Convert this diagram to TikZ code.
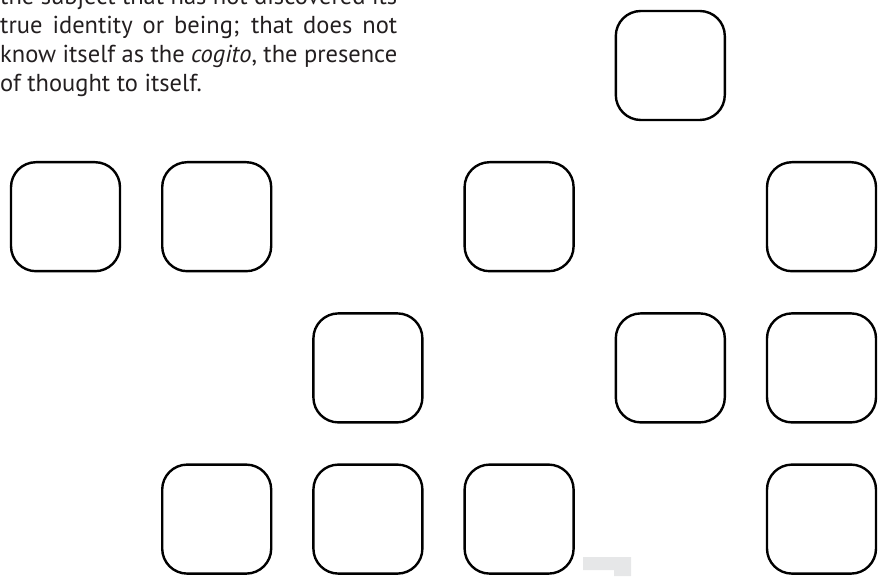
\documentclass[tikz,border=0pt]{standalone}
\usepackage{fontspec}
\setmainfont{PT Sans}
\definecolor{tabgray}{HTML}{E6E7E8}
\definecolor{txt}{HTML}{231F20}
\tikzset{
  tile/.style={draw=black, line width=2.4pt, rounded corners=25pt, minimum size=109pt, inner sep=0pt},
  para/.style={anchor=base west, inner sep=0pt, text=txt, font=\fontsize{24.5}{29}\selectfont}
}
\begin{document}
\begin{tikzpicture}[x=1pt,y=1pt]
\useasboundingbox (0,0) rectangle (882,576);
% text (y measured from top: 576 - py)
\node[para] (l1) at (0,571) {\makebox[397pt][s]{the subject that has not discovered its}};
\node[para] (l2) at (0,542) {\makebox[397pt][s]{true identity or being; that does not}};
\node[para] (l3) at (0,513) {\makebox[397pt][s]{know itself as the \textit{cogito}, the presence}};
\node[para] (l4) at (0,484) {of thought to itself.};
% tiles
\def\cx#1{65.5+151.2*#1}
\def\ry#1{576-65.5-151.2*#1}
\node[tile] (a4) at ({\cx{4}},{\ry{0}}) {};
\node[tile] (b0) at ({\cx{0}},{\ry{1}}) {};
\node[tile] (b1) at ({\cx{1}},{\ry{1}}) {};
\node[tile] (b3) at ({\cx{3}},{\ry{1}}) {};
\node[tile] (b5) at ({\cx{5}},{\ry{1}}) {};
\node[tile] (c2) at ({\cx{2}},{\ry{2}}) {};
\node[tile] (c4) at ({\cx{4}},{\ry{2}}) {};
\node[tile] (c5) at ({\cx{5}},{\ry{2}}) {};
\node[tile] (d1) at ({\cx{1}},{\ry{3}}) {};
\node[tile] (d2) at ({\cx{2}},{\ry{3}}) {};
\node[tile] (d3) at ({\cx{3}},{\ry{3}}) {};
\node[tile] (d5) at ({\cx{5}},{\ry{3}}) {};
% grey tab at bottom
\fill[tabgray] (583,19) -- (631,19) -- (631,0) -- (614,0) -- (614,6) -- (583,6) -- cycle;
\end{tikzpicture}
\end{document}
